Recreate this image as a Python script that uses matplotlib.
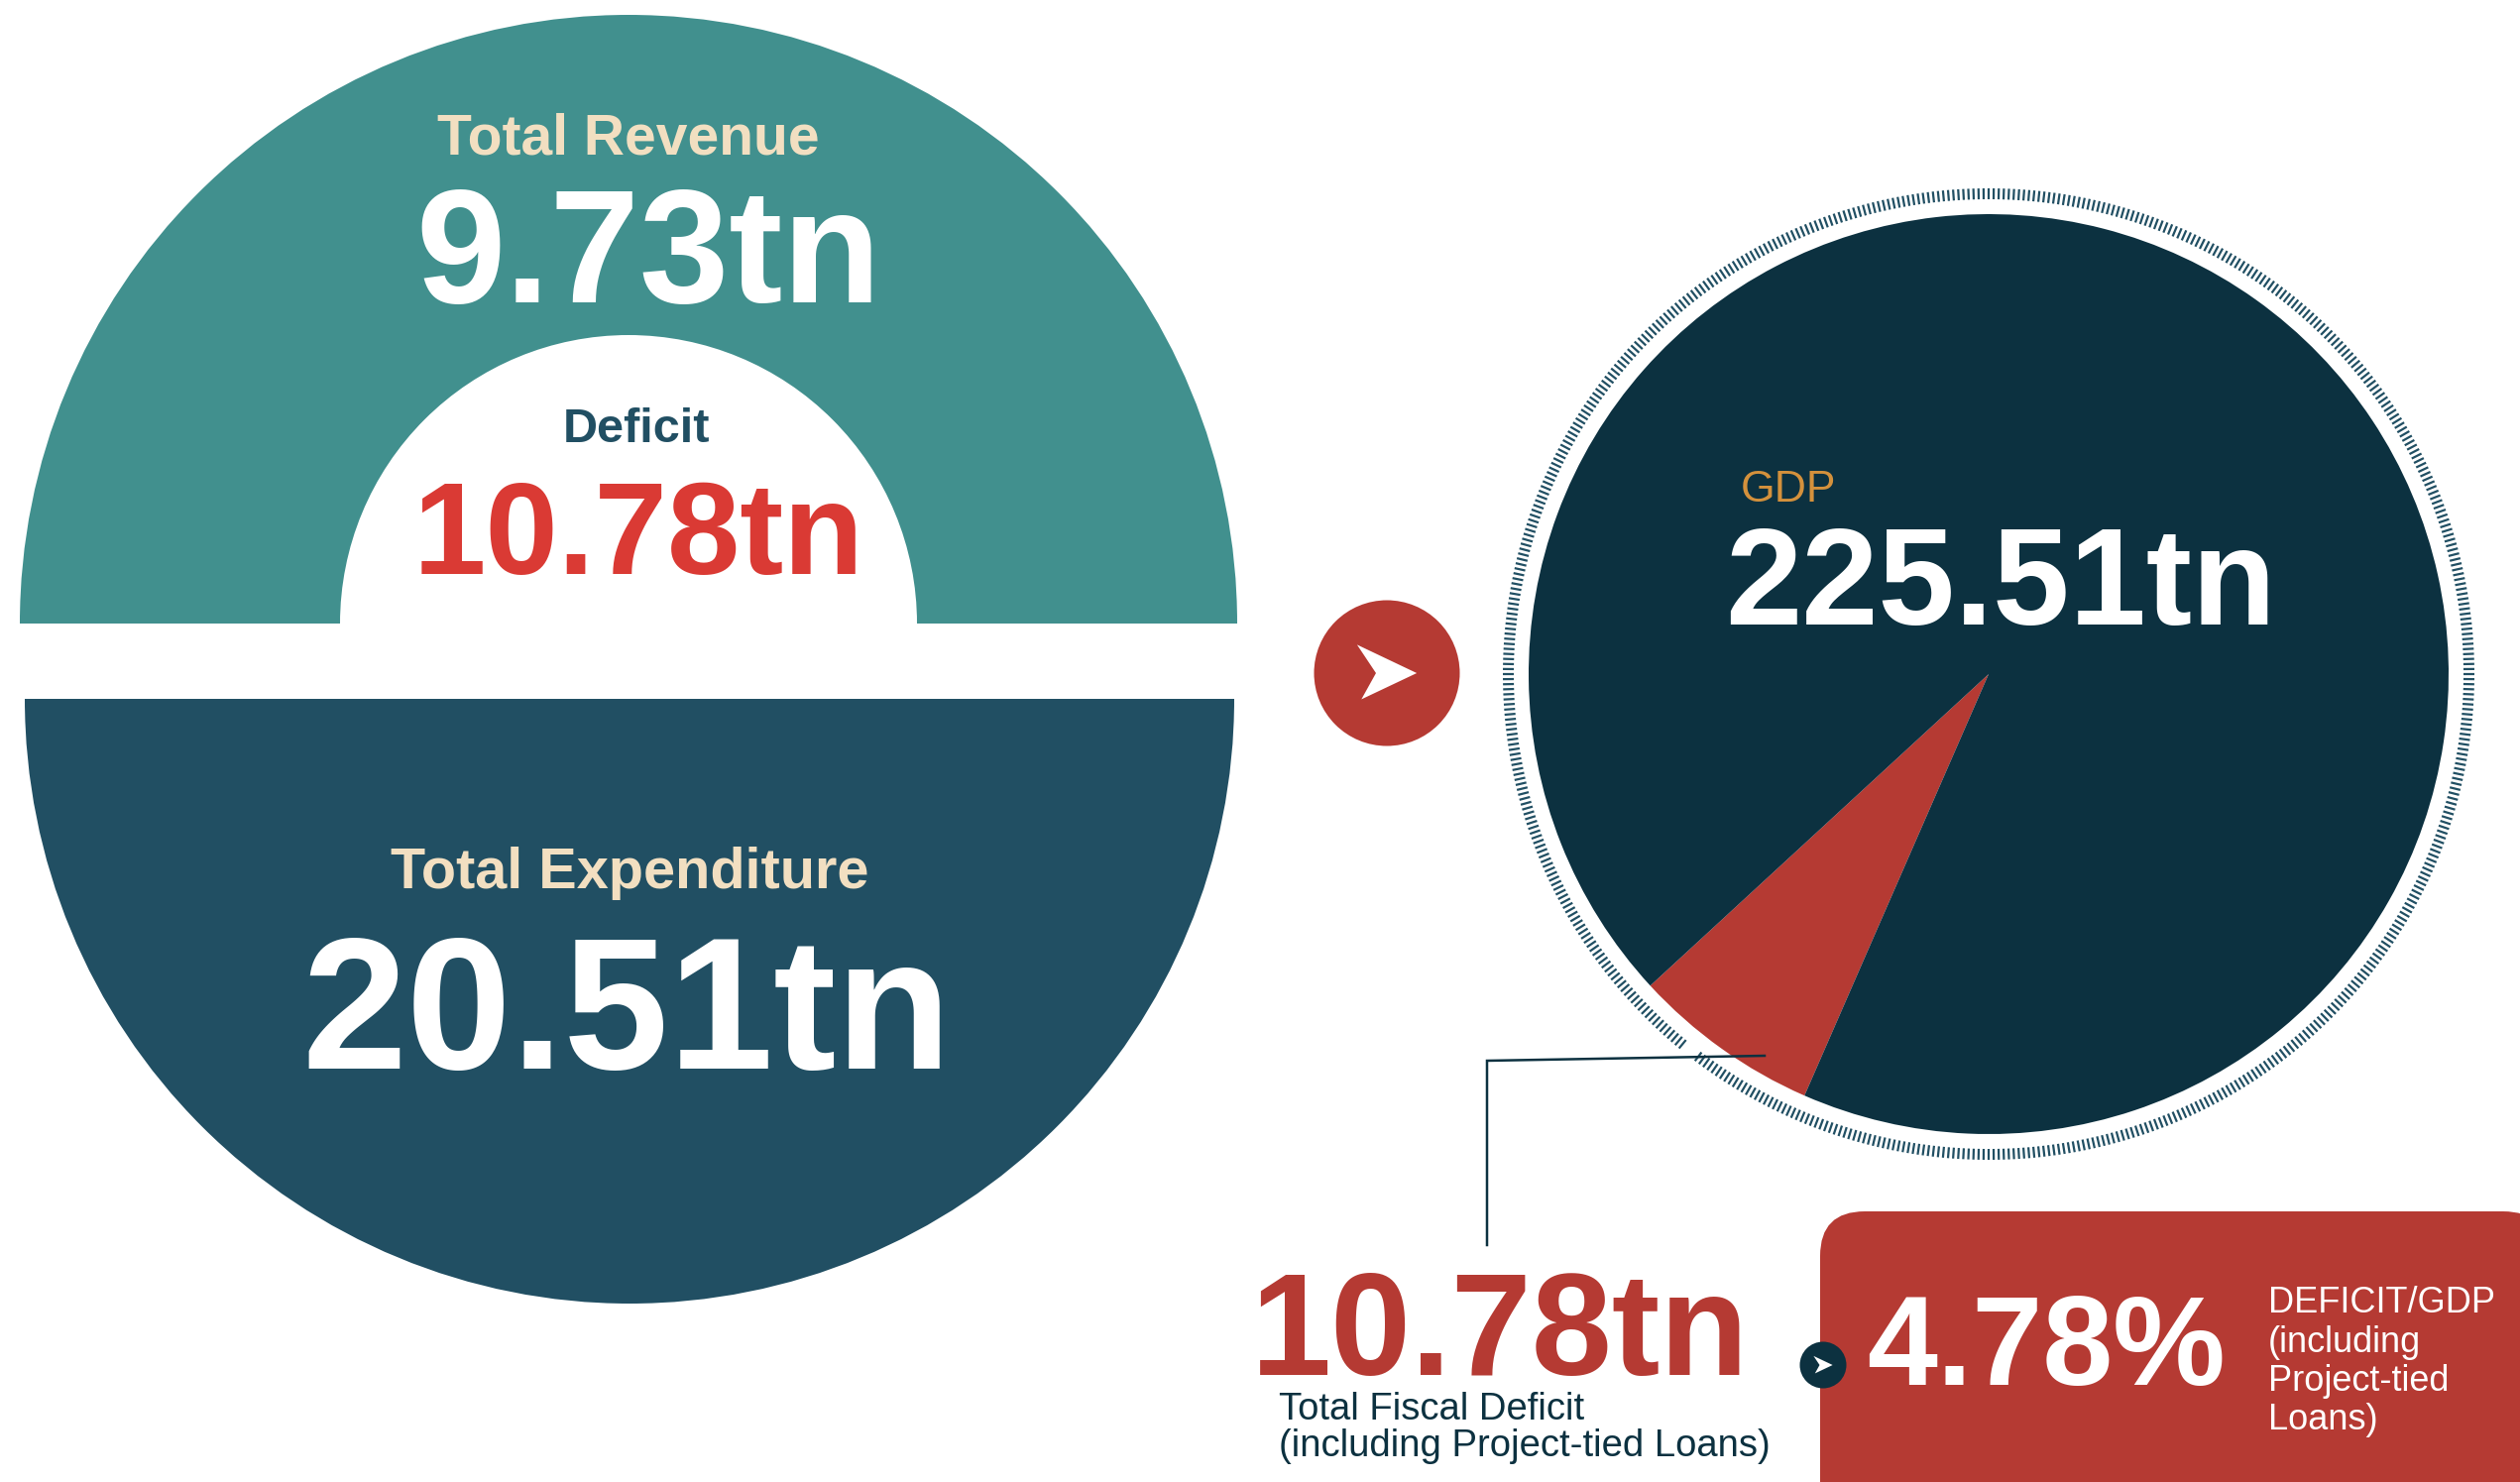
import numpy as np
import matplotlib
matplotlib.use("Agg")
import matplotlib.pyplot as plt
from matplotlib.patches import Wedge, Circle, Polygon, FancyBboxPatch
from matplotlib.collections import LineCollection

plt.rcParams['font.family'] = ['Liberation Sans', 'DejaVu Sans']

# figures shown on the chart (trillion)
revenue = 9.73
expenditure = 20.51
deficit = 10.78
gdp = 225.51
deficit_gdp = 4.78

# the GDP pie: share of the red slice as drawn in the picture (%)
gdp_slices = [6.6, 93.4]
gdp_labels = ["Deficit", "Rest of GDP"]

box_label = ["DEFICIT/GDP", "(including", "Project-tied", "Loans)"]
fiscal_label = ["Total Fiscal Deficit", "(including Project-tied Loans)"]

teal = "#41908e"
navy = "#214f63"
dark = "#0c3140"
red = "#b53a33"
bright_red = "#da3a34"
cream = "#f2dfc1"
orange = "#d4913c"

W, H = 2542, 1495
fig = plt.figure(figsize=(W / 100, H / 100), dpi=100)
ax = fig.add_axes([0, 0, 1, 1])

# ---- left: revenue ring over expenditure half disc
ax.add_patch(Wedge((634, 629), 614, 180, 360, width=614 - 291, color=teal, lw=0))
ax.add_patch(Wedge((635, 705), 610, 0, 180, color=navy, lw=0))

ax.text(634, 156, "Total Revenue", ha='center', va='baseline', fontsize=41,
        fontweight='bold', color=cream)
ax.text(654, 305, f"{revenue:.2f}tn", ha='center', va='baseline', fontsize=117,
        fontweight='bold', color='white')
ax.text(642, 446, "Deficit", ha='center', va='baseline', fontsize=35,
        fontweight='bold', color=navy)
ax.text(644, 579, f"{deficit:.2f}tn", ha='center', va='baseline', fontsize=95,
        fontweight='bold', color=bright_red)
ax.text(635, 896, "Total Expenditure", ha='center', va='baseline', fontsize=41.5,
        fontweight='bold', color=cream)
ax.text(632, 1078, f"{expenditure:.2f}tn", ha='center', va='baseline', fontsize=137,
        fontweight='bold', color='white')


def arrow(cx, cy, r, color):
    shape = np.array([[0.41, 0.0], [-0.41, -0.39], [-0.15, 0.0], [-0.35, 0.36]])
    ax.add_patch(Polygon(shape * r + [cx, cy], closed=True, color=color, lw=0))


# ---- middle arrow
ax.add_patch(Circle((1399, 679), 73.5, color=red, lw=0))
arrow(1399, 679, 73.5, 'white')

# ---- right: GDP pie
cx, cy, R = 2006, 680, 464
ax.pie(gdp_slices, labels=None, colors=[red, dark], center=(cx, cy), radius=R,
       startangle=113.6, counterclock=True, wedgeprops=dict(linewidth=0))

# dashed ring of ticks
ang = np.deg2rad(np.arange(0, 360, 0.6))
ang = ang[np.abs(np.rad2deg(ang) - 128.4) > 0.8]
segs = [[(cx + 479 * np.cos(a), cy + 479 * np.sin(a)),
         (cx + 490 * np.cos(a), cy + 490 * np.sin(a))] for a in ang]
ax.add_collection(LineCollection(segs, colors=navy, linewidths=1.6))

ax.text(1756, 506, "GDP", ha='left', va='baseline', fontsize=32, color=orange)
ax.text(1740, 630, f"{gdp:.2f}tn", ha='left', va='baseline', fontsize=100,
        fontweight='bold', color='white')

# leader line
ax.plot([1780, 1500, 1500], [1065, 1070, 1256], color=dark, lw=1.8,
        solid_joinstyle='miter')

# ---- bottom: fiscal deficit and ratio box
ax.text(1262, 1387, f"{deficit:.2f}tn", ha='left', va='baseline', fontsize=105,
        fontweight='bold', color=red)
for i, line in enumerate(fiscal_label):
    ax.text(1290, 1432 + i * 37, line, ha='left', va='baseline', fontsize=27.5,
            color=dark)

ax.add_patch(FancyBboxPatch((1836, 1222), 2570 - 1836, 1540 - 1222,
                            boxstyle="round,pad=0,rounding_size=45",
                            color=red, lw=0))
ax.add_patch(Circle((1839, 1377), 23.5, color=dark, lw=0))
arrow(1839, 1377, 23.5, 'white')

ax.text(1883, 1397, f"{deficit_gdp:.2f}%", ha='left', va='baseline', fontsize=92,
        fontweight='bold', color='white')
for i, line in enumerate(box_label):
    ax.text(2288, 1324 + i * 39.5, line, ha='left', va='baseline', fontsize=26,
            color='white')

ax.set_xlim(0, W)
ax.set_ylim(H, 0)
ax.set_aspect('equal')
ax.axis('off')

fig.savefig("out.png", dpi=100, facecolor='white')
